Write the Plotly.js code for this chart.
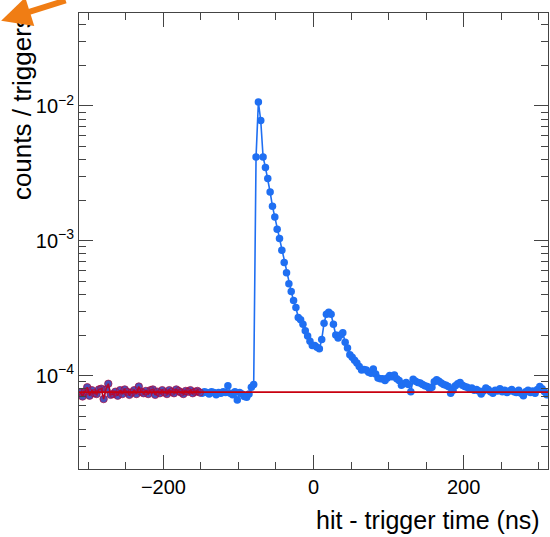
<!DOCTYPE html>
<html>
<head>
<meta charset="utf-8">
<script src="https://cdn.plot.ly/plotly-3.0.1.min.js"></script>
<style>html,body{margin:0;padding:0;background:#fff;}#plot{width:550px;height:537px;}</style>
</head>
<body>
<div id="plot"></div>
<script>
// Histogram binning (ns)
const xMin = -312.5;
const binWidth = 3.125;

// counts / triggers per bin (200 bins)
const baseline = [
 7.5e-5,7.0e-5,7.6e-5,8.2e-5,7.1e-5,7.8e-5,7.4e-5,7.3e-5,7.9e-5,8.0e-5,
 6.7e-5,7.9e-5,8.7e-5,7.2e-5,7.3e-5,7.6e-5,7.1e-5,7.8e-5,7.3e-5,7.9e-5,
 7.6e-5,7.2e-5,7.5e-5,7.8e-5,7.3e-5,8.3e-5,7.6e-5,7.4e-5,7.7e-5,7.3e-5,
 7.8e-5,7.9e-5,7.2e-5,7.6e-5,7.4e-5,7.8e-5,7.5e-5,7.3e-5,7.8e-5,7.6e-5,
 7.4e-5,7.9e-5,7.7e-5,7.5e-5,7.3e-5,7.7e-5,7.6e-5,7.8e-5,7.4e-5,7.6e-5,
 7.7e-5,7.5e-5,7.4e-5,7.6e-5,7.5e-5,7.3e-5,7.6e-5,7.5e-5,7.2e-5,7.5e-5,
 7.4e-5,7.6e-5,7.5e-5,8.4e-5,7.4e-5,7.2e-5,7.6e-5,6.6e-5,7.5e-5,7.3e-5,
 7.0e-5,6.9e-5,7.3e-5,8.2e-5,8.6e-5
];
const peak = [
 4.19e-3,1.07e-2,7.8e-3,4.19e-3,3.5e-3,2.9e-3,2.3e-3,1.8e-3,1.5e-3,1.22e-3,
 1.04e-3,8.5e-4,6.9e-4,5.8e-4,4.8e-4,4.2e-4,3.6e-4,3.2e-4,2.7e-4,2.6e-4,
 2.4e-4,2.15e-4,1.97e-4,1.8e-4,1.67e-4,1.67e-4,1.62e-4,1.58e-4,1.85e-4,2.45e-4,
 2.85e-4,2.95e-4,2.85e-4,2.4e-4,2.0e-4,1.9e-4,2.0e-4,2.08e-4,1.77e-4,1.6e-4,
 1.43e-4,1.37e-4,1.3e-4,1.24e-4,1.17e-4,1.1e-4,1.11e-4,1.1e-4,1.06e-4,1.04e-4,
 1.12e-4,1.03e-4,9.6e-5,9.5e-5
];
const tail = [
 9.5e-5,9.2e-5,9.6e-5,1.0e-4,9.8e-5,1.01e-4,9.5e-5,9.2e-5,8.5e-5,8.7e-5,
 8.9e-5,8.6e-5,7.6e-5,9.4e-5,9.1e-5,8.9e-5,8.8e-5,8.6e-5,8.4e-5,8.3e-5,
 8.0e-5,8.2e-5,9.0e-5,9.3e-5,9.1e-5,8.8e-5,8.6e-5,8.5e-5,8.3e-5,7.4e-5,
 7.8e-5,8.4e-5,8.7e-5,8.9e-5,8.5e-5,8.3e-5,8.2e-5,8.0e-5,8.1e-5,7.8e-5,
 7.9e-5,7.7e-5,7.3e-5,7.7e-5,8.1e-5,7.9e-5,7.6e-5,7.4e-5,7.8e-5,7.7e-5,
 8.0e-5,7.6e-5,7.8e-5,7.5e-5,7.7e-5,7.9e-5,7.6e-5,7.5e-5,7.8e-5,7.4e-5,
 7.1e-5,7.6e-5,7.8e-5,7.5e-5,7.7e-5,7.4e-5,7.9e-5,8.3e-5,8.0e-5,7.6e-5,
 7.2e-5
];
const fitConstant = 7.54e-5;
const fitMax = -150;   // end of the fit range (ns)

const xTickVals = [-200, 0, 200];
const xTickText = ['\u2212200', '0', '200'];
const yTickVals = [1e-4, 1e-3, 1e-2];
const yTickText = ['10<sup>\u22124</sup>', '10<sup>\u22123</sup>', '10<sup>\u22122</sup>'];

const counts = baseline.concat(peak, tail);
const centers = counts.map((_, i) => xMin + binWidth * (i + 0.5));
const xMax = xMin + binWidth * counts.length;

const fitX = [], fitY = [];
centers.forEach((c, i) => { if (c < fitMax) { fitX.push(c); fitY.push(counts[i]); } });

const yMinorVals = [];
for (let e = -5; e <= -2; e++) for (let d = 2; d <= 9; d++) yMinorVals.push(d * Math.pow(10, e));

const blue = '#1f6ff2';
const red = '#c8000f';
const font = 'Liberation Sans, Arial, sans-serif';

const traces = [
  { x: centers, y: counts, type: 'scatter', mode: 'lines+markers',
    line: { color: blue, width: 1.6 }, marker: { color: blue, size: 7.5 }, hoverinfo: 'none' },
  { x: fitX, y: fitY, type: 'scatter', mode: 'lines+markers',
    line: { color: red, width: 1.5 },
    marker: { color: 'rgba(160,20,80,0.35)', size: 7.5, line: { color: 'rgba(190,0,40,0.6)', width: 1 } },
    hoverinfo: 'none' },
  { x: [xMin, xMax], y: [fitConstant, fitConstant], type: 'scatter', mode: 'lines',
    line: { color: red, width: 1.6 }, hoverinfo: 'none' }
];

const axisCommon = {
  showline: true, linecolor: '#444', linewidth: 1, mirror: 'allticks',
  ticks: 'inside', tickcolor: '#444', ticklen: 14, tickwidth: 1,
  showgrid: false, zeroline: false,
  tickfont: { family: font, size: 20, color: '#000' }
};

const layout = {
  width: 550, height: 537,
  margin: { l: 79, r: 2, t: 13, b: 68 },
  paper_bgcolor: '#fff', plot_bgcolor: '#fff',
  showlegend: false,
  xaxis: Object.assign({}, axisCommon, {
    range: [xMin, xMax], tickmode: 'array', tickvals: xTickVals, ticktext: xTickText,
    minor: { ticks: 'inside', ticklen: 7, tickcolor: '#444', dtick: 50, tick0: 0, showgrid: false }
  }),
  yaxis: Object.assign({}, axisCommon, {
    type: 'log', range: [Math.log10(2.03e-5), Math.log10(0.0489)],
    tickmode: 'array', tickvals: yTickVals, ticktext: yTickText,
    minor: { ticks: 'inside', ticklen: 7, tickcolor: '#444', tickmode: 'array', tickvals: yMinorVals, showgrid: false }
  }),
  annotations: [
    { text: 'hit - trigger time (ns)', xref: 'paper', yref: 'paper', x: 0.988, y: -0.112,
      xanchor: 'right', yanchor: 'middle', showarrow: false,
      font: { family: font, size: 25, color: '#000' } },
    { text: 'counts / triggers', xref: 'paper', yref: 'paper', x: -0.12, y: 0.793,
      xanchor: 'center', yanchor: 'middle', textangle: -90, showarrow: false,
      font: { family: font, size: 26, color: '#000' } },
    { text: '', xref: 'paper', yref: 'paper', x: -0.166, y: 0.983,
      showarrow: true, arrowhead: 2, arrowsize: 1, arrowwidth: 6, arrowcolor: '#f07d14',
      ax: 66, ay: -28 }
  ]
};

Plotly.newPlot('plot', traces, layout, { staticPlot: true, displayModeBar: false });
</script>
</body>
</html>
